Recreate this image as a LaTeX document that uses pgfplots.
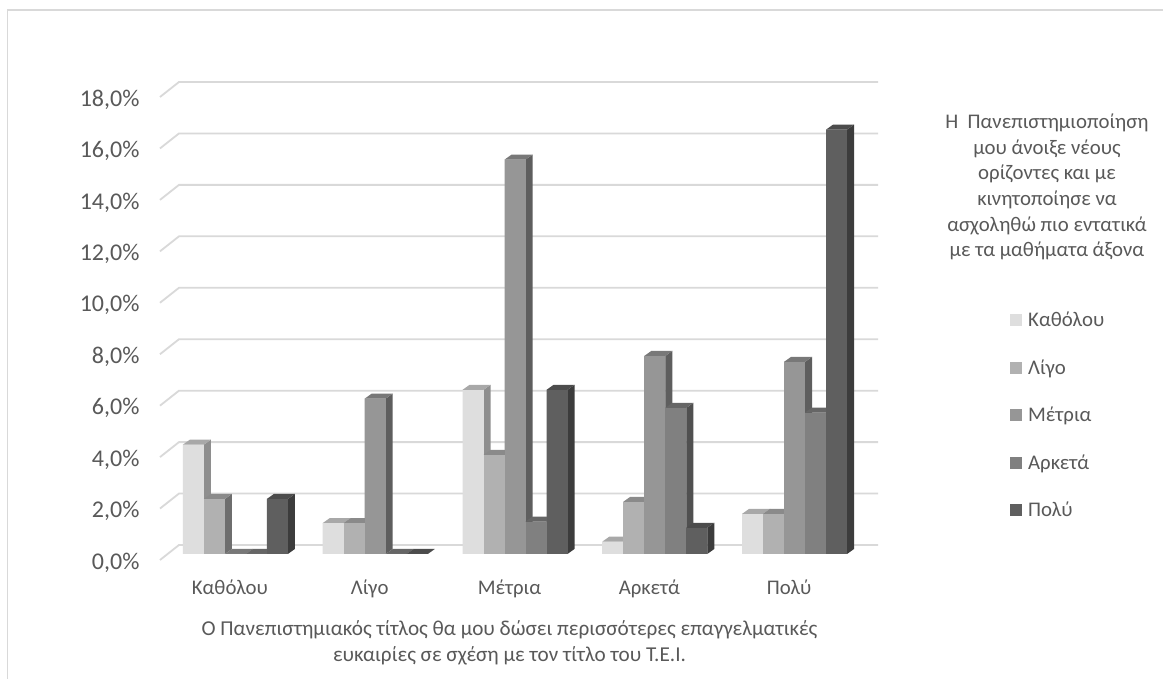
\documentclass[border=0pt]{standalone}
\usepackage{pgfplots}
\usepackage{pgfplotstable}
\usepackage{fontspec}
\setmainfont{Carlito}
\pgfplotsset{compat=1.18}
\definecolor{txt}{HTML}{595959}
\definecolor{gridc}{HTML}{D9D9D9}
\definecolor{frontA}{HTML}{DEDEDE}\definecolor{sideA}{HTML}{8E8E8E}\definecolor{topA}{HTML}{A8A8A8}
\definecolor{frontB}{HTML}{B1B1B1}\definecolor{sideB}{HTML}{6E6E6E}\definecolor{topB}{HTML}{8A8A8A}
\definecolor{frontC}{HTML}{969696}\definecolor{sideC}{HTML}{5E5E5E}\definecolor{topC}{HTML}{787878}
\definecolor{frontD}{HTML}{808080}\definecolor{sideD}{HTML}{505050}\definecolor{topD}{HTML}{666666}
\definecolor{frontE}{HTML}{5F5F5F}\definecolor{sideE}{HTML}{3C3C3C}\definecolor{topE}{HTML}{4C4C4C}
\pgfplotstableread{
x a b c d e
0 4.25 2.14 0.00 0.00 2.14
1 1.20 1.20 6.04 0.00 0.00
2 6.38 3.85 15.33 1.26 6.38
3 0.48 2.03 7.70 5.68 1.02
4 1.56 1.56 7.47 5.50 16.50
}\datatable
% the faces of one bar, drawn as a plot mark at the top of the bar
\newcommand{\defbarmark}[4]{%
  \pgfdeclareplotmark{#1}{%
    \pgfmathsetlengthmacro{\hh}{\rawv*25.72pt}%
    \pgfsetfillcolor{#2}%
    \pgfpathmoveto{\pgfpoint{10.5pt}{0pt}}%
    \pgfpathlineto{\pgfpoint{17.5pt}{5pt}}%
    \pgfpathlineto{\pgfpoint{17.5pt}{5pt-\hh}}%
    \pgfpathlineto{\pgfpoint{10.5pt}{-\hh}}%
    \pgfpathclose\pgfusepath{fill}%
    \pgfsetfillcolor{#3}%
    \pgfpathmoveto{\pgfpoint{-10.5pt}{0pt}}%
    \pgfpathlineto{\pgfpoint{10.5pt}{0pt}}%
    \pgfpathlineto{\pgfpoint{17.5pt}{5pt}}%
    \pgfpathlineto{\pgfpoint{-3.5pt}{5pt}}%
    \pgfpathclose\pgfusepath{fill}%
    \pgfsetfillcolor{#4}%
    \pgfpathmoveto{\pgfpoint{-10.5pt}{0pt}}%
    \pgfpathlineto{\pgfpoint{10.5pt}{0pt}}%
    \pgfpathlineto{\pgfpoint{10.5pt}{-\hh}}%
    \pgfpathlineto{\pgfpoint{-10.5pt}{-\hh}}%
    \pgfpathclose\pgfusepath{fill}%
  }}
\defbarmark{barA}{sideA}{topA}{frontA}
\defbarmark{barB}{sideB}{topB}{frontB}
\defbarmark{barC}{sideC}{topC}{frontC}
\defbarmark{barD}{sideD}{topD}{frontD}
\defbarmark{barE}{sideE}{topE}{frontE}
\pgfplotsset{
  bar3d/.style n args={3}{ybar, bar width=21pt, bar shift=0pt, draw=none, fill=#1,
    mark=#2, xshift=#3, yshift=6pt,
    visualization depends on={rawy \as \rawv},
    legend image code/.code={\fill[#1,xshift={-1*(#3)},yshift=-6pt] (0pt,-6pt) rectangle (12pt,6pt);}},
}
\begin{document}
\begin{tikzpicture}[x=1pt,y=1pt,every node/.style={text=txt}]
\useasboundingbox (0,0) rectangle (1163,679);
\fill[white] (0,0) rectangle (1163,679);
\draw[gridc,line width=1.5pt] (7.5,0) -- (7.5,669) -- (1163,669);
\begin{axis}[
  at={(160pt,119pt)}, anchor=south west,
  scale only axis, width=699pt, height=463pt,
  xmin=-0.5, xmax=4.5, ymin=0, ymax=18,
  clip=false,
  axis line style={draw=none},
  major tick length=0pt,
  xtick={0,1,2,3,4},
  xticklabels={Καθόλου,Λίγο,Μέτρια,Αρκετά,Πολύ},
  ytick={0,2,...,18},
  yticklabels={{0,0\%},{2,0\%},{4,0\%},{6,0\%},{8,0\%},{10,0\%},{12,0\%},{14,0\%},{16,0\%},{18,0\%}},
  x tick label style={font=\fontsize{20.8}{24}\selectfont, text=txt, yshift=-16pt},
  y tick label style={font=\fontsize{24}{26}\selectfont, text=txt, xshift=-17pt, yshift=-2.5pt},
  xlabel={Ο Πανεπιστημιακός τίτλος θα μου δώσει περισσότερες επαγγελματικές\\ευκαιρίες σε σχέση με τον τίτλο του Τ.Ε.Ι.},
  xlabel style={font=\fontsize{21.2}{26.5}\selectfont, text=txt, align=center, yshift=-16pt},
  legend style={at={(axis cs:5.58,9.65)}, anchor=north west, draw=none, fill=none,
    font=\fontsize{20.8}{24}\selectfont, text=txt, row sep=31.4pt, inner sep=0pt,
    nodes={inner sep=0pt},
    /tikz/every odd column/.append style={column sep=6pt}},
  legend cell align=left,
]
\pgfplotsinvokeforeach{0,2,...,18}{
  \draw[gridc,line width=1.8pt] (axis cs:-0.5,#1) -- ++(19pt,15pt) -- ++(699pt,0pt);
}
\addplot[bar3d={frontA}{barA}{-36.5pt}] table[x=x,y=a] {\datatable};
\addlegendentry{Καθόλου}
\addplot[bar3d={frontB}{barB}{-15.5pt}] table[x=x,y=b] {\datatable};
\addlegendentry{Λίγο}
\addplot[bar3d={frontC}{barC}{5.5pt}] table[x=x,y=c] {\datatable};
\addlegendentry{Μέτρια}
\addplot[bar3d={frontD}{barD}{26.5pt}] table[x=x,y=d] {\datatable};
\addlegendentry{Αρκετά}
\addplot[bar3d={frontE}{barE}{47.5pt}] table[x=x,y=e] {\datatable};
\addlegendentry{Πολύ}
\end{axis}
\node[align=center,font=\fontsize{20.8}{25.7}\selectfont,anchor=center] at (1047,492)
  {Η\ \ Πανεπιστημιοποίηση\\μου άνοιξε νέους\\ορίζοντες και με\\κινητοποίησε να\\ασχοληθώ πιο εντατικά\\με τα μαθήματα άξονα};
\end{tikzpicture}
\end{document}
